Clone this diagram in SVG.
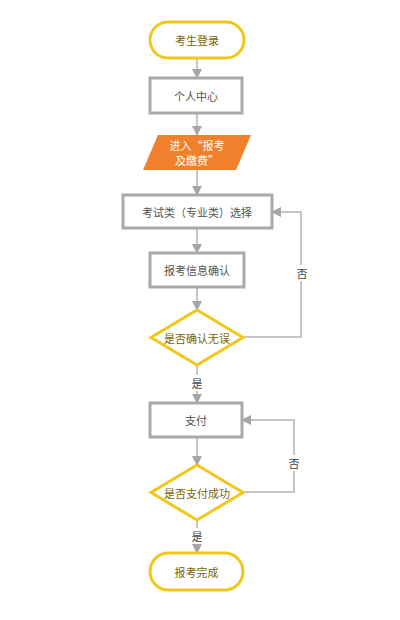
<svg xmlns="http://www.w3.org/2000/svg" width="400" height="620" viewBox="0 0 400 620">
<defs>
<marker id="ah" viewBox="0 0 10 10" refX="9" refY="5" markerWidth="10" markerHeight="10" markerUnits="userSpaceOnUse" orient="auto">
<path d="M0,0 L10,5 L0,10 z" fill="#a6a6a6"/>
</marker>
<style>
text{font-family:"Noto Sans CJK SC","Noto Sans",sans-serif;font-size:11px;text-anchor:middle;dominant-baseline:central}
.term{fill:#fff;stroke:#f2c71a;stroke-width:3}
.box{fill:#fff;stroke:#a9a9a9;stroke-width:3}
.dia{fill:#fff;stroke:#f2c71a;stroke-width:3}
.yt{fill:#7a6500}
.gt{fill:#555}
.wt{fill:#fff}
.ln{fill:none;stroke:#b3b3b3;stroke-width:1.5;marker-end:url(#ah)}
.lbl{fill:#444}
</style>
</defs>
<rect width="400" height="620" fill="#fff"/>
<g id="connectors">
<line class="ln" x1="197" y1="58" x2="197" y2="78"/>
<line class="ln" x1="197" y1="113" x2="197" y2="135"/>
<line class="ln" x1="197" y1="170" x2="197" y2="195"/>
<line class="ln" x1="197" y1="228" x2="197" y2="253"/>
<line class="ln" x1="197" y1="287" x2="197" y2="310"/>
<line class="ln" x1="197" y1="365" x2="197" y2="403"/>
<line class="ln" x1="197" y1="437" x2="197" y2="465"/>
<line class="ln" x1="197" y1="520" x2="197" y2="553"/>
<polyline class="ln" points="243,337 301,337 301,212 272,212"/>
<polyline class="ln" points="243,492 294,492 294,420 242,420"/>
<rect x="189" y="375" width="16" height="16" fill="#fff"/>
<text class="lbl" x="197" y="383">是</text>
<rect x="189" y="528" width="16" height="16" fill="#fff"/>
<text class="lbl" x="197" y="536">是</text>
<rect x="294" y="265" width="16" height="16" fill="#fff"/>
<text class="lbl" x="302" y="273">否</text>
<rect x="286" y="455" width="16" height="16" fill="#fff"/>
<text class="lbl" x="294" y="463">否</text>
</g>
<g id="start">
<rect class="term" x="150" y="22" width="94" height="36" rx="18"/>
<text class="yt" x="197" y="40">考生登录</text>
</g>
<g id="center">
<rect class="box" x="150" y="78" width="92" height="35"/>
<text class="gt" x="196" y="95.5">个人中心</text>
</g>
<g id="enter">
<polygon points="158,135 251,135 236,170 143,170" fill="#f0802b"/>
<text class="wt" x="197" y="145">进入“报考</text>
<text class="wt" x="197" y="160">及缴费”</text>
</g>
<g id="select">
<rect class="box" x="123" y="195" width="149" height="33"/>
<text class="gt" x="197" y="211.5">考试类（专业类）选择</text>
</g>
<g id="confirm">
<rect class="box" x="150" y="253" width="94" height="34"/>
<text class="gt" x="197" y="270">报考信息确认</text>
</g>
<g id="check">
<polygon class="dia" points="197,310 243,337.5 197,365 151,337.5"/>
<text class="yt" x="197" y="337.5">是否确认无误</text>
</g>
<g id="pay">
<rect class="box" x="150" y="403" width="92" height="34"/>
<text class="gt" x="196" y="420">支付</text>
</g>
<g id="paycheck">
<polygon class="dia" points="197,465 243,492.5 197,520 151,492.5"/>
<text class="yt" x="197" y="492.5">是否支付成功</text>
</g>
<g id="done">
<rect class="term" x="150" y="553" width="93" height="37" rx="18.5"/>
<text class="yt" x="196.5" y="571.5">报考完成</text>
</g>
</svg>
